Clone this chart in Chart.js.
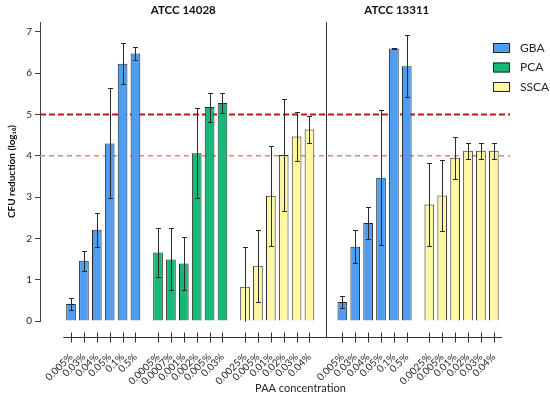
<!DOCTYPE html>
<html>
<head>
<meta charset="utf-8">
<script src="https://cdn.jsdelivr.net/npm/chart.js@4"></script>
<style>
  html, body { margin: 0; padding: 0; background: #fff; }
  #wrap { width: 550px; height: 397px; }
</style>
</head>
<body>
<div id="wrap"><canvas id="paaChart"></canvas></div>
<script>
// PAA concentrations (tick labels)
const gbaConc = ['0.005%', '0.03%', '0.04%', '0.05%', '0.1%', '0.5%'];
const pcaConc = ['0.0005%', '0.0007%', '0.001%', '0.002%', '0.005%', '0.03%'];
const sscaConc = ['0.0025%', '0.005%', '0.01%', '0.02%', '0.03%', '0.04%'];

// CFU reduction (log10), mean and error
const gba14028 = [0.41, 1.46, 2.21, 4.30, 6.23, 6.48];
const gba14028Err = [0.14, 0.24, 0.41, 1.33, 0.50, 0.15];
const pca14028 = [1.66, 1.49, 1.39, 4.06, 5.18, 5.28];
const pca14028Err = [0.60, 0.75, 0.64, 1.09, 0.35, 0.25];
const ssca14028 = [0.83, 1.34, 3.03, 4.02, 4.47, 4.64];
const ssca14028Err = [0.96, 0.87, 1.21, 1.36, 0.60, 0.33];

const gba13311 = [0.46, 1.80, 2.37, 3.47, 6.60, 6.17];
const gba13311Err = [0.15, 0.40, 0.38, 1.64, 0.02, 0.75];
const ssca13311 = [2.82, 3.04, 3.95, 4.12, 4.12, 4.12];
const ssca13311Err = [1.00, 0.87, 0.50, 0.19, 0.19, 0.19];

const panelTitles = ['ATCC 14028', 'ATCC 13311'];
const seriesNames = ['GBA', 'PCA', 'SSCA'];
const thresholds = [5, 4];

// styles
const seriesColors = ['#4d9ef2', '#17b978', '#fdf6a3'];
const thresholdStyles = [
  { color: '#c3141c', width: 2, dash: [6, 3] },
  { color: '#ee8080', width: 1.6, dash: [5, 4] }
];
const FONT = 'Lato, "Open Sans", sans-serif';
const TEXT = '#262626';
const GROUP_GAP = 1.75;   // distance between groups, in bar slots
const PANEL_GAP = 2.55;   // distance across the divider

const groups = [
  { panel: 0, name: 'GBA', conc: gbaConc, values: gba14028, errors: gba14028Err },
  { panel: 0, name: 'PCA', conc: pcaConc, values: pca14028, errors: pca14028Err },
  { panel: 0, name: 'SSCA', conc: sscaConc, values: ssca14028, errors: ssca14028Err },
  { panel: 1, name: 'GBA', conc: gbaConc, values: gba13311, errors: gba13311Err },
  { panel: 1, name: 'SSCA', conc: sscaConc, values: ssca13311, errors: ssca13311Err }
];

// lay the groups out along a linear x scale
const tickPos = [];
const tickLabels = [];
const dividers = [];
const seriesData = { GBA: [], PCA: [], SSCA: [] };
const seriesErr = { GBA: [], PCA: [], SSCA: [] };
let prevEnd = null;
let prevPanel = 0;
groups.forEach((g) => {
  let start = 0;
  if (prevEnd !== null) {
    if (g.panel !== prevPanel) {
      start = prevEnd + PANEL_GAP;
      dividers.push((prevEnd + start) / 2);
    } else {
      start = prevEnd + GROUP_GAP;
    }
  }
  g.values.forEach((v, i) => {
    const x = start + i;
    tickPos.push(x);
    tickLabels.push(g.conc[i]);
    seriesData[g.name].push({ x: x, y: v });
    seriesErr[g.name].push(g.errors[i]);
  });
  prevEnd = start + g.values.length - 1;
  prevPanel = g.panel;
});
const xMin = tickPos[0] - 1.8;
const xMax = tickPos[tickPos.length - 1] + 0.65;

const extras = {
  id: 'extras',
  beforeDatasetsDraw(chart) {
    const { ctx, chartArea, scales } = chart;
    ctx.save();
    thresholds.forEach((t, i) => {
      const st = thresholdStyles[i];
      const py = scales.y.getPixelForValue(t);
      ctx.strokeStyle = st.color;
      ctx.lineWidth = st.width;
      ctx.setLineDash(st.dash);
      ctx.beginPath();
      ctx.moveTo(chartArea.left, py);
      ctx.lineTo(chartArea.right, py);
      ctx.stroke();
    });
    ctx.restore();
  },
  afterDatasetsDraw(chart) {
    const ctx = chart.ctx;
    const y = chart.scales.y;
    ctx.save();
    ctx.strokeStyle = '#2a2a2a';
    ctx.lineWidth = 1;
    chart.data.datasets.forEach((ds, di) => {
      const meta = chart.getDatasetMeta(di);
      meta.data.forEach((bar, i) => {
        const v = ds.data[i].y;
        const e = ds.errors[i];
        const top = Math.round(y.getPixelForValue(v + e)) + 0.5;
        const low = Math.max(0, v - e);
        const bot = Math.round(y.getPixelForValue(low)) + 0.5;
        const cx = Math.round(bar.x) + 0.5;
        ctx.beginPath();
        ctx.moveTo(cx, top);
        ctx.lineTo(cx, bot);
        ctx.moveTo(cx - 2.5, top);
        ctx.lineTo(cx + 2.5, top);
        if (low > 0) {
          ctx.moveTo(cx - 2.5, bot);
          ctx.lineTo(cx + 2.5, bot);
        }
        ctx.stroke();
      });
    });
    ctx.restore();
  },
  afterDraw(chart) {
    const { ctx, chartArea, scales } = chart;
    const x = scales.x;
    const axisY = Math.round(chartArea.bottom + 16) + 0.5;
    ctx.save();
    ctx.strokeStyle = '#333';
    ctx.lineWidth = 1;

    // detached x axis with crossing ticks
    ctx.beginPath();
    ctx.moveTo(x.getPixelForValue(tickPos[0] - 0.6), axisY);
    ctx.lineTo(x.getPixelForValue(tickPos[tickPos.length - 1] + 0.65), axisY);
    tickPos.forEach((p) => {
      const px = Math.round(x.getPixelForValue(p)) + 0.5;
      ctx.moveTo(px, axisY - 5);
      ctx.lineTo(px, axisY + 5);
    });
    ctx.stroke();

    // panel divider
    const divPx = dividers.map((d) => Math.round(x.getPixelForValue(d)) + 0.5);
    ctx.beginPath();
    divPx.forEach((px) => {
      ctx.moveTo(px, chartArea.top);
      ctx.lineTo(px, axisY);
    });
    ctx.stroke();

    // panel titles
    ctx.fillStyle = '#111';
    ctx.font = 'bold 11.5px ' + FONT;
    ctx.textAlign = 'center';
    ctx.textBaseline = 'middle';
    ctx.fillText(panelTitles[0], (chartArea.left + divPx[0]) / 2, 10);
    ctx.fillText(panelTitles[1], x.getPixelForValue(dividers[0] + 5.5), 10);

    // x title
    ctx.fillStyle = TEXT;
    ctx.font = '11px ' + FONT;
    ctx.fillText('PAA concentration', x.getPixelForValue(17.8), 388);

    // legend
    ctx.textAlign = 'left';
    ctx.font = '12px ' + FONT;
    chart.data.datasets.forEach((ds, i) => {
      const by = chartArea.top + 21 + i * 19.5;
      const bx = chartArea.right - 17;
      ctx.fillStyle = ds.backgroundColor;
      ctx.fillRect(bx, by, 17, 10);
      ctx.strokeStyle = '#262626';
      ctx.strokeRect(bx + 0.5, by + 0.5, 16, 9);
      ctx.fillStyle = TEXT;
      ctx.fillText(ds.label, chartArea.right + 10, by + 5);
    });
    ctx.restore();
  }
};

const ctx = document.getElementById('paaChart').getContext('2d');
const paaChart = new Chart(ctx, {
  type: 'bar',
  data: {
    datasets: seriesNames.map((name, k) => ({
      label: name,
      data: seriesData[name],
      errors: seriesErr[name],
      backgroundColor: seriesColors[k],
      borderColor: '#262626',
      borderWidth: 1,
      grouped: false,
      categoryPercentage: 1,
      barPercentage: 0.75
    }))
  },
  options: {
    responsive: true,
    maintainAspectRatio: false,
    animation: false,
    devicePixelRatio: 1,
    layout: { padding: { top: 22, right: 40, left: 0, bottom: 0 } },
    plugins: {
      legend: { display: false },
      tooltip: { enabled: false }
    },
    scales: {
      x: {
        type: 'linear',
        min: xMin,
        max: xMax,
        grid: { display: false },
        border: { display: false },
        afterBuildTicks: (scale) => {
          scale.ticks = tickPos.map((v) => ({ value: v }));
        },
        afterFit: (scale) => {
          scale.height = 76;
          scale.paddingLeft = 0;
          scale.paddingRight = 0;
        },
        ticks: {
          autoSkip: false,
          minRotation: 45,
          maxRotation: 45,
          padding: 22,
          color: TEXT,
          font: { family: FONT, size: 10 },
          callback: (value, index) => tickLabels[index]
        }
      },
      y: {
        min: 0,
        max: 7.24,
        afterFit: (scale) => {
          scale.width = 40;
        },
        ticks: {
          stepSize: 1,
          includeBounds: false,
          padding: 3,
          color: TEXT,
          font: { family: FONT, size: 10 }
        },
        grid: {
          drawOnChartArea: false,
          drawTicks: true,
          tickLength: 5,
          color: '#404040'
        },
        border: { color: '#404040', width: 1 },
        title: {
          display: true,
          text: 'CFU reduction (log₁₀)',
          color: '#111',
          padding: { top: 6, bottom: 0 },
          font: { family: FONT, size: 10, weight: 'bold' }
        }
      }
    }
  },
  plugins: [extras]
});
</script>
</body>
</html>
